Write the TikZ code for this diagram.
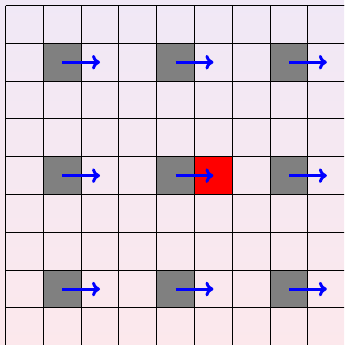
\documentclass[tikz,border=0pt]{standalone}
\usetikzlibrary{arrows.meta}
\definecolor{bgtop}{RGB}{240,232,246}
\definecolor{bgbot}{RGB}{252,232,236}
\begin{document}
\begin{tikzpicture}[
  x=1cm,y=1cm,
  cellbox/.style={draw=black,line width=0.8pt,minimum size=1cm,inner sep=0pt,outer sep=0pt,anchor=north west},
  graycell/.style={cellbox,fill=gray},
  redcell/.style={cellbox,fill=red},
  movearrow/.style={draw=blue,line width=2.2pt,-{Computer Modern Rightarrow[length=6pt,width=11pt]}},
  gridline/.style={draw=black,line width=0.8pt}
]
\useasboundingbox (-0.1455,0.1455) rectangle (8.955,-8.98);
\clip (-0.1455,0.1455) rectangle (8.955,-8.98);
\shade[top color=bgtop,bottom color=bgbot] (-0.2,0.2) rectangle (9.1,-9.1);
\draw[gridline] (0,0) grid (9.5,-9.5);
\draw[gridline] (0,0) -- (0,-9.5);
\draw[gridline] (0,0) -- (9.5,0);
% red cell
\node[redcell] (r44) at (5,-4) {};
% gray cells and arrows
\foreach \c in {1,4,7}{
  \foreach \r in {1,4,7}{
    \node[graycell] (g\c\r) at (\c,-\r) {};
    \coordinate (t\c\r) at ({\c+1.5},{-\r-0.5});
  }
}
\foreach \c in {1,4,7}{
  \foreach \r in {1,4,7}{
    \draw[movearrow] (g\c\r.center) -- (t\c\r);
  }
}
\end{tikzpicture}
\end{document}
